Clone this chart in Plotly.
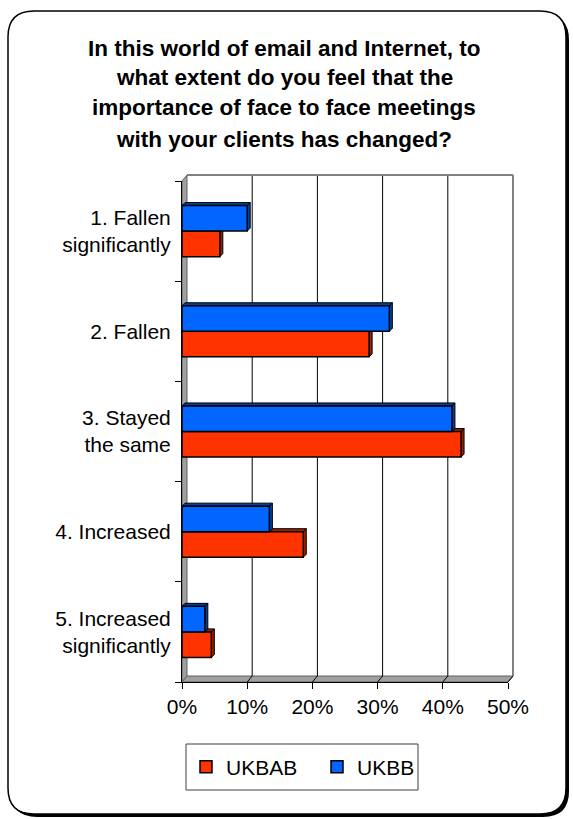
import plotly.graph_objects as go

# ---- data -------------------------------------------------------------
categories = [
    "1. Fallen<br>significantly",
    "2. Fallen",
    "3. Stayed<br>the same",
    "4. Increased",
    "5. Increased<br>significantly",
]
ukbab = [5.8, 28.7, 42.8, 18.6, 4.5]
ukbb = [10.0, 31.8, 41.4, 13.4, 3.5]
x_ticks = [0, 10, 20, 30, 40, 50]
x_tick_labels = ["0%", "10%", "20%", "30%", "40%", "50%"]
title_lines = [
    "In this world of email and Internet, to",
    "what extent do you feel that the",
    "importance of face to face meetings",
    "with your clients has changed?",
]

# ---- page geometry (pixels) ------------------------------------------
W, H = 573, 819
PL, PR, PT, PB = 182, 508, 181, 682          # front face of the plot box
PW, PH = PR - PL, PB - PT
XMAX = 50
WALL_DX, WALL_DY = 5, 6                       # depth of the back walls
BAR_DX, BAR_DY = 3, 3                         # depth of the bars
BARGAP = 0.49
LEGEND_BOX = (186, 744, 418, 790)             # left, top, right, bottom

FONT = "Liberation Sans, Arial, sans-serif"
RED, RED_DARK = "#FF3300", "#992000"
BLUE, BLUE_DARK = "#0066FF", "#0040A0"
WALL = "#A0A0A0"


def px(x):
    return (x - PL) / PW


def py(y):
    return (PB - y) / PH


order = list(reversed(categories))  # first category at the top

fig = go.Figure()
fig.add_trace(go.Bar(
    name="UKBAB", y=categories, x=ukbab, orientation="h",
    marker=dict(color=RED, line=dict(color="black", width=1.5)),
))
fig.add_trace(go.Bar(
    name="UKBB", y=categories, x=ukbb, orientation="h",
    marker=dict(color=BLUE, line=dict(color="black", width=1.5)),
))

shapes = []

# rounded outer frame with a drop shadow
def rounded(x0, y0, x1, y1, r):
    return (
        f"M {px(x0 + r)},{py(y0)} L {px(x1 - r)},{py(y0)} "
        f"Q {px(x1)},{py(y0)} {px(x1)},{py(y0 + r)} "
        f"L {px(x1)},{py(y1 - r)} Q {px(x1)},{py(y1)} {px(x1 - r)},{py(y1)} "
        f"L {px(x0 + r)},{py(y1)} Q {px(x0)},{py(y1)} {px(x0)},{py(y1 - r)} "
        f"L {px(x0)},{py(y0 + r)} Q {px(x0)},{py(y0)} {px(x0 + r)},{py(y0)} Z"
    )

shapes.append(dict(type="path", xref="paper", yref="paper", layer="below",
                   path=rounded(11, 14, 569, 817, 26),
                   fillcolor="black", line=dict(width=0)))
shapes.append(dict(type="path", xref="paper", yref="paper", layer="below",
                   path=rounded(8, 11, 566, 814, 26),
                   fillcolor="white", line=dict(color="black", width=1.5)))

# legend frame
lx0, ly0, lx1, ly1 = LEGEND_BOX
shapes.append(dict(type="rect", xref="paper", yref="paper", layer="below",
                   x0=px(lx0), x1=px(lx1), y0=py(ly1), y1=py(ly0),
                   fillcolor="white", line=dict(color="#404040", width=1)))

# 3-D walls: left side wall and floor
dxw, dyw = WALL_DX / PW, WALL_DY / PH
shapes.append(dict(type="path", xref="paper", yref="paper", layer="below",
                   path=f"M 0,0 L {dxw},{dyw} L {dxw},{1 + dyw} L 0,1 Z",
                   fillcolor=WALL, line=dict(color="#606060", width=1)))
shapes.append(dict(type="path", xref="paper", yref="paper", layer="below",
                   path=f"M 0,0 L 1,0 L {1 + dxw},{dyw} L {dxw},{dyw} Z",
                   fillcolor=WALL, line=dict(color="#606060", width=1)))

# back-plane gridlines and floor marks at each tick
for v in x_ticks:
    xf = v / XMAX
    if 0 < v < XMAX:
        shapes.append(dict(type="line", xref="paper", yref="paper", layer="below",
                           x0=xf + dxw, x1=xf + dxw, y0=dyw, y1=1 + dyw,
                           line=dict(color="black", width=1)))
    if v > 0:
        shapes.append(dict(type="line", xref="paper", yref="paper", layer="below",
                           x0=xf, x1=xf + dxw, y0=0, y1=dyw,
                           line=dict(color="black", width=1)))

# back-plane border (top and right)
shapes.append(dict(type="line", xref="paper", yref="paper", layer="below",
                   x0=dxw, x1=1 + dxw, y0=1 + dyw, y1=1 + dyw,
                   line=dict(color="#808080", width=2)))
shapes.append(dict(type="line", xref="paper", yref="paper", layer="below",
                   x0=1 + dxw, x1=1 + dxw, y0=dyw, y1=1 + dyw,
                   line=dict(color="#808080", width=2)))

# depth faces of the bars (side and top), placed from the same values
band_px = PH / len(categories)
dxb = BAR_DX * XMAX / PW
dyb = BAR_DY / band_px
bw = (1 - BARGAP) / 2
for k, (vals, dark) in enumerate([(ukbab, RED_DARK), (ukbb, BLUE_DARK)]):
    for cat, v in zip(categories, vals):
        j = order.index(cat)
        y0 = j - (1 - BARGAP) / 2 + k * bw
        y1 = y0 + bw
        shapes.append(dict(
            type="path", xref="x", yref="y", layer="below",
            path=(f"M {v},{y0} L {v + dxb},{y0 + dyb} L {v + dxb},{y1 + dyb} "
                  f"L {v},{y1} Z"),
            fillcolor=dark, line=dict(color="black", width=1)))
        shapes.append(dict(
            type="path", xref="x", yref="y", layer="below",
            path=(f"M 0,{y1} L {dxb},{y1 + dyb} L {v + dxb},{y1 + dyb} "
                  f"L {v},{y1} Z"),
            fillcolor=dark, line=dict(color="black", width=1)))

# title, one annotation per line
annotations = []
title_centres = [48, 78, 108, 139]
for line, yc in zip(title_lines, title_centres):
    annotations.append(dict(
        text=f"<b>{line}</b>", xref="paper", yref="paper",
        x=px(284), y=py(yc), xanchor="center", yanchor="middle",
        showarrow=False, font=dict(family=FONT, size=22.5, color="black")))

fig.update_layout(
    width=W, height=H,
    margin=dict(l=PL, r=W - PR, t=PT, b=H - PB, pad=0),
    paper_bgcolor="white",
    plot_bgcolor="rgba(0,0,0,0)",
    barmode="group", bargap=BARGAP, bargroupgap=0,
    font=dict(family=FONT, size=21, color="black"),
    shapes=shapes,
    annotations=annotations,
    showlegend=True,
    legend=dict(
        orientation="h", x=px(186), y=py((ly0 + ly1) / 2),
        xanchor="left", yanchor="middle",
        bgcolor="rgba(0,0,0,0)", borderwidth=0,
        font=dict(family=FONT, size=21, color="black"),
        traceorder="normal", entrywidth=86,
    ),
    xaxis=dict(
        range=[0, XMAX], tickvals=x_ticks, ticktext=x_tick_labels,
        ticks="outside", ticklen=6, tickcolor="black", tickwidth=1,
        showline=True, linecolor="black", linewidth=1,
        showgrid=False, zeroline=False, fixedrange=True,
        tickfont=dict(family=FONT, size=21, color="black"),
    ),
    yaxis=dict(
        type="category", categoryorder="array", categoryarray=order,
        tickson="boundaries", ticks="outside", ticklen=6, tickcolor="black",
        showline=True, linecolor="black", linewidth=1,
        showgrid=False, zeroline=False, fixedrange=True,
        ticklabelstandoff=6,
        tickfont=dict(family=FONT, size=21, color="black"),
    ),
)

fig.write_html("out.html")
